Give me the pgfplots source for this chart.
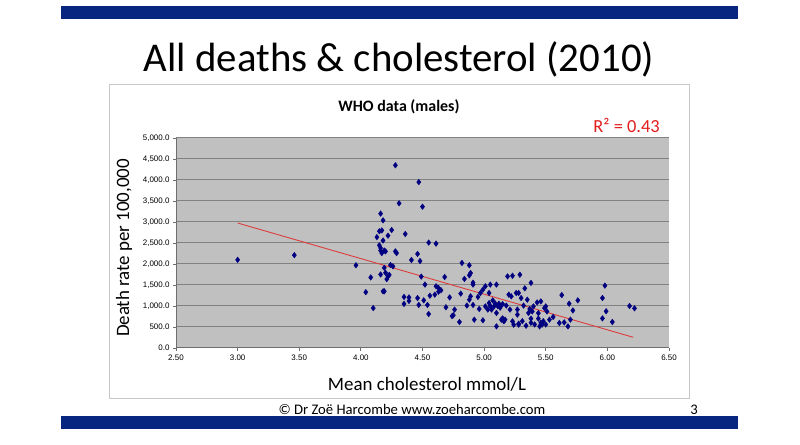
\documentclass[border=0pt]{standalone}
\usepackage{pgfplots}
\pgfplotsset{compat=1.18}
\usepackage{fontspec}
\setmainfont{Carlito}
\newfontfamily\arialf{Liberation Sans}
\definecolor{navybar}{RGB}{6,38,128}
\definecolor{plotbg}{RGB}{192,192,192}
\definecolor{gridc}{RGB}{130,130,130}
\definecolor{axisc}{RGB}{110,110,110}
\definecolor{markc}{RGB}{0,0,128}
\definecolor{trendc}{RGB}{222,60,60}
\definecolor{rred}{RGB}{226,30,30}
\definecolor{framec}{RGB}{200,200,200}
\begin{document}
\begin{tikzpicture}
\path[use as bounding box,fill=white] (0bp,0bp) rectangle (800bp,445bp);
% bars
\fill[navybar] (61bp,439bp) rectangle (738bp,425.7bp);
\fill[navybar] (61bp,29bp) rectangle (738bp,16bp);
% title
\node[anchor=base,inner sep=0pt,font=\fontsize{41}{48}\selectfont] at (399bp,373.3bp) {All deaths \& cholesterol (2010)};
% chart frame
\draw[framec,line width=1bp] (109bp,360bp) rectangle (689bp,46bp);
\begin{axis}[
  at={(176bp,97bp)}, anchor=south west,
  width=493bp, height=210bp, scale only axis,
  xmin=2.5, xmax=6.5, ymin=0, ymax=5000,
  xtick={2.5,3,3.5,4,4.5,5,5.5,6,6.5},
  xticklabels={2.50,3.00,3.50,4.00,4.50,5.00,5.50,6.00,6.50},
  ytick={0,500,1000,1500,2000,2500,3000,3500,4000,4500,5000},
  yticklabels={0.0,500.0,{1,000.0},{1,500.0},{2,000.0},{2,500.0},{3,000.0},{3,500.0},{4,000.0},{4,500.0},{5,000.0}},
  ticklabel style={font=\arialf\fontsize{8}{9}\selectfont},
  axis background/.style={fill=plotbg},
  ymajorgrids, grid style={gridc,line width=1bp},
  axis x line*=bottom, axis y line*=left,
  axis line style={axisc,line width=1bp,-},
  tick align=outside, major tick length=3bp,
  tick style={axisc,line width=0.8bp},
  clip=false,
]
\addplot[only marks, mark=diamond*, mark size=2.8bp, color=markc] coordinates {
(3.00,2100) (3.46,2210) (3.96,1970) (4.04,1330) (4.08,1680) (4.10,950)
(4.16,3200) (4.18,3040) (4.13,2640) (4.15,2780) (4.17,2800) (4.25,2810)
(4.22,2675) (4.18,2560) (4.15,2445) (4.16,2380) (4.16,2320) (4.19,2320)
(4.17,2260) (4.20,2300) (4.16,1750) (4.19,1910) (4.20,1790) (4.22,1710)
(4.21,1640) (4.23,1740) (4.18,1350) (4.19,1350) (4.24,1975) (4.26,1945)
(4.28,2300) (4.29,2260) (4.28,4350) (4.31,3445) (4.36,2715) (4.41,2095)
(4.46,2240) (4.48,2070) (4.47,3950) (4.50,3365) (4.55,2510) (4.61,2485)
(4.49,1700) (4.52,1510) (4.35,1215) (4.39,1205) (4.39,1120) (4.35,1050)
(4.46,1190) (4.47,1025) (4.51,1135) (4.54,1025) (4.56,1245) (4.55,810)
(4.61,1470) (4.63,1430) (4.65,1375) (4.63,1340) (4.60,1270) (4.68,1690)
(4.69,970) (4.72,1205) (4.74,760) (4.76,915) (4.80,620) (4.81,1295)
(4.75,780) (4.82,2025) (4.84,1645) (4.88,1970) (4.89,1785) (4.88,1730)
(4.86,1010) (4.91,1555) (4.91,1510) (4.89,1230) (4.88,1150) (4.91,1025)
(4.92,675) (4.96,930) (4.95,1215) (4.97,1310) (4.99,660) (4.99,1390)
(5.01,1470) (5.01,990) (5.03,915) (5.04,1070) (5.04,1310) (5.05,1510)
(5.07,1135) (5.08,990) (5.10,515) (5.10,835) (5.10,1510) (5.06,915)
(5.12,1055) (5.13,990) (5.14,675) (5.15,705) (5.16,635) (5.17,675)
(5.13,960) (5.19,1705) (5.23,1720) (5.20,1270) (5.22,1230) (5.21,915)
(5.23,635) (5.24,555) (5.26,1310) (5.27,915) (5.27,795) (5.28,580)
(5.28,555) (5.29,1745) (5.28,1310) (5.30,1190) (5.32,1010) (5.33,1420)
(5.34,530) (5.35,1150) (5.36,835) (5.38,600) (5.37,930) (5.38,1550)
(5.38,700) (5.39,870) (5.40,990) (5.43,1085) (5.44,830) (5.45,515)
(5.46,1110) (5.47,555) (5.48,640) (5.49,950) (5.50,990) (5.51,870)
(5.53,675) (5.56,740) (5.63,1260) (5.61,595) (5.65,610) (5.68,515)
(5.69,1055) (5.70,675) (5.72,895) (5.76,1135) (5.96,705) (5.96,1190)
(5.98,1485) (5.99,875) (6.04,620) (6.18,1000) (6.22,945)
(5.05,1000) (5.09,1060) (5.11,1000) (5.15,1045) (5.18,1010)
(5.31,640) (5.41,560) (5.44,700) (5.46,600) (5.50,560)
};
\addplot[trendc, line width=0.9bp] coordinates {(3.00,2976) (6.21,255)};
\end{axis}
% chart texts
\node[anchor=base,inner sep=0pt,font=\bfseries\fontsize{16}{19}\selectfont] at (399bp,333.3bp) {WHO data (males)};
\node[anchor=base east,inner sep=0pt,text=rred,font=\fontsize{18.5}{21}\selectfont] at (660bp,312.7bp) {R² = 0.43};
\node[rotate=90,inner sep=0pt,font=\fontsize{19}{22}\selectfont] at (124bp,197bp) {Death rate per 100,000};
\node[anchor=base,inner sep=0pt,font=\fontsize{19}{22}\selectfont] at (427bp,54bp) {Mean cholesterol mmol/L};
% footer
\node[anchor=base,inner sep=0pt,font=\fontsize{14.7}{17}\selectfont] at (412bp,30.5bp) {© Dr Zoë Harcombe www.zoeharcombe.com};
\node[anchor=base,inner sep=0pt,font=\fontsize{14.7}{17}\selectfont] at (694bp,30.5bp) {3};
\end{tikzpicture}
\end{document}
